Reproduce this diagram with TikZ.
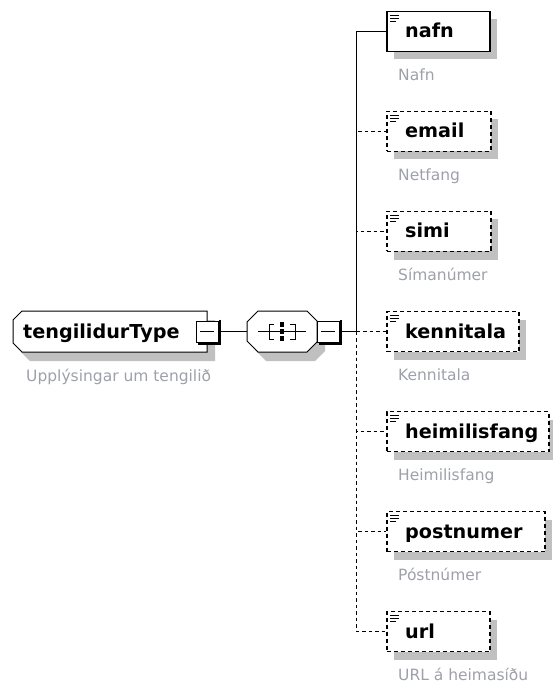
\documentclass[tikz,border=0pt]{standalone}
\usepackage{fontspec}
\setmainfont{DejaVu Sans}
\definecolor{shadowgray}{RGB}{192,192,192}
\definecolor{descgray}{RGB}{158,160,170}
\begin{document}
\begin{tikzpicture}[x=1pt,y=-1pt,
  elbox/.style={draw=black, fill=white, line width=1.7pt, minimum width=#1, minimum height=40pt, inner sep=0pt, anchor=west},
  optbox/.style={elbox=#1, line width=1.5pt, dash pattern=on 4pt off 3pt},
  lbl/.style={font=\fontsize{19.2}{22}\selectfont\bfseries, anchor=base west, inner sep=0pt},
  desc/.style={font=\fontsize{15.5}{18}\selectfont, text=descgray, anchor=base west, inner sep=0pt},
  conn/.style={line width=1.1pt},
  optconn/.style={conn, line width=1.3pt, dash pattern=on 3.5pt off 3pt},
  minusbox/.style={draw=black, fill=white, line width=1pt, minimum width=22pt, minimum height=21pt, inner sep=0pt},
  iconline/.style={line width=1.2pt}
]
\useasboundingbox (0,0) rectangle (552,684);

% ---------- root element ----------
\fill[shadowgray] (30,320) -- (215,320) -- (215,361) -- (30,361) -- (21,352) -- (21,329) -- cycle;
\draw[line width=1pt, fill=white] (22,311) -- (207,311) -- (207,352) -- (22,352) -- (13,343) -- (13,320) -- cycle;
\node[lbl] (roottext) at (23,338) {tengilidurType};
\node[desc] (rootdesc) at (26,381) {Upplýsingar um tengilið};
\node[minusbox] (minusA) at (207,331.5) {};
\draw[line width=2pt] ([xshift=1pt,yshift=1pt]minusA.north east) -- ([xshift=1pt,yshift=-1pt]minusA.south east) -- ([xshift=2pt,yshift=-1pt]minusA.south west);
\draw[line width=1pt] ([xshift=-7pt]minusA.center) -- ([xshift=7pt]minusA.center);

% ---------- sequence compositor ----------
\coordinate (seqW) at (247,331.5);
\fill[shadowgray] (266,320) -- (315,320) -- (325,330) -- (325,351) -- (315,361) -- (266,361) -- (255,350) -- (255,331) -- cycle;
\draw[line width=1pt, fill=white] (258,311) -- (307,311) -- (317,321) -- (317,342) -- (307,352) -- (258,352) -- (247,341) -- (247,322) -- cycle;
\draw[line width=1pt] (258,331.5) -- (306,331.5);
\draw[line width=1pt] (274,324) -- (269,324) -- (269,339) -- (274,339);
\draw[line width=1pt] (290,324) -- (295,324) -- (295,339) -- (290,339);
\fill[black] (280,322) rectangle (284,327);
\fill[black] (280,329) rectangle (284,334);
\fill[black] (280,336) rectangle (284,341);
\node[minusbox] (minusB) at (328,331.5) {};
\draw[line width=2pt] ([xshift=1pt,yshift=1pt]minusB.north east) -- ([xshift=1pt,yshift=-1pt]minusB.south east) -- ([xshift=2pt,yshift=-1pt]minusB.south west);
\draw[line width=1pt] ([xshift=-7pt]minusB.center) -- ([xshift=7pt]minusB.center);

\draw[conn] (minusA.east) -- (seqW);
\coordinate (bus) at (356.5,331.5);
\draw[conn] (minusB.east) -- (bus);

% ---------- optional children ----------
\foreach \i/\t/\d/\w in {1/email/Netfang/104, 2/simi/Símanúmer/104, 3/kennitala/Kennitala/132, 4/heimilisfang/Heimilisfang/162, 5/postnumer/Póstnúmer/158, 6/url/URL á heimasíðu/103}{
  \pgfmathsetmacro\cy{31.5+100*\i}
  \draw[optconn] (bus) |- (386,\cy);
  \fill[shadowgray] (394,\cy-12) rectangle (386+\w+8,\cy+28);
  \node[optbox=\w] (c\i) at (386,\cy) {};
  \draw[iconline] (390,\cy-16) -- (399,\cy-16) (390,\cy-13) -- (399,\cy-13) (390,\cy-10) -- (396,\cy-10);
  \node[lbl] (t\i) at (405,\cy+6.5) {\t};
  \node[desc] (d\i) at (398,\cy+49) {\d};
}

% ---------- mandatory child ----------
\draw[conn] (bus) |- (386,31.5);
\fill[shadowgray] (394,19.5) rectangle (497,59.5);
\node[elbox=103] (c0) at (386,31.5) {};
\draw[iconline] (390,15.5) -- (399,15.5) (390,18.5) -- (399,18.5) (390,21.5) -- (396,21.5);
\node[lbl] (t0) at (405,38) {nafn};
\node[desc] (d0) at (398,80.5) {Nafn};
\end{tikzpicture}
\end{document}
